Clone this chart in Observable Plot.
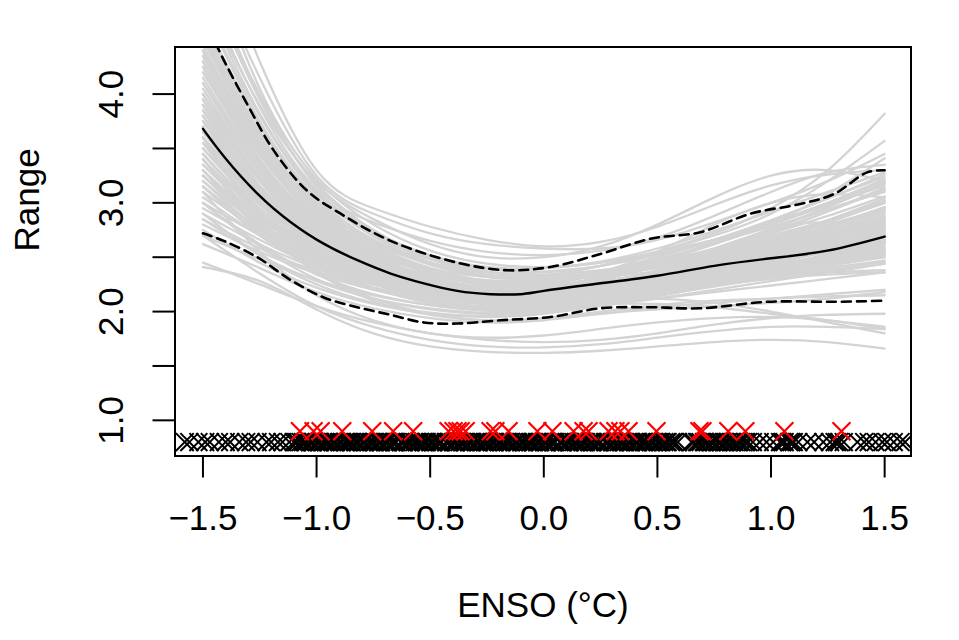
<!DOCTYPE html>
<html>
<head>
<meta charset="utf-8">
<script src="https://cdn.jsdelivr.net/npm/d3@7"></script>
<script src="https://cdn.jsdelivr.net/npm/@observablehq/plot@0.6"></script>
<style>
  html, body { margin: 0; padding: 0; background: #fff; }
</style>
</head>
<body>
<div id="chart"></div>
<script>
// ---------- data ----------
const gridX = [-1.5, -1.25, -1.0, -0.75, -0.5, -0.25, 0, 0.25, 0.5, 0.75, 1.0, 1.25, 1.5];

// bootstrap curves (grey), values at gridX
const bootCurves = [
  [5.6, 4.30, 3.30, 2.95, 2.78, 2.66, 2.60, 2.64, 2.78, 2.98, 3.16, 3.26, 3.30],
  [5.3, 4.15, 3.25, 2.90, 2.72, 2.62, 2.58, 2.58, 2.66, 2.82, 3.00, 3.20, 3.45],
  [5.0, 4.00, 3.15, 2.82, 2.65, 2.55, 2.52, 2.56, 2.68, 2.88, 3.10, 3.28, 3.35],
  [4.9, 3.90, 3.20, 2.85, 2.62, 2.50, 2.50, 2.60, 2.80, 3.05, 3.25, 3.30, 3.20],
  [4.4, 3.55, 2.95, 2.62, 2.45, 2.36, 2.36, 2.42, 2.55, 2.72, 2.95, 3.30, 3.82],
  [4.2, 3.45, 2.90, 2.58, 2.40, 2.32, 2.33, 2.42, 2.55, 2.70, 2.90, 3.20, 3.57],
  [4.6, 3.60, 2.98, 2.65, 2.48, 2.40, 2.40, 2.45, 2.55, 2.66, 2.82, 3.08, 3.41],
  [4.3, 3.45, 2.88, 2.55, 2.35, 2.24, 2.22, 2.26, 2.33, 2.42, 2.52, 2.64, 2.80],
  [3.9, 3.20, 2.75, 2.48, 2.30, 2.20, 2.20, 2.27, 2.37, 2.50, 2.62, 2.74, 2.86],
  [3.5, 2.95, 2.60, 2.38, 2.23, 2.15, 2.16, 2.22, 2.28, 2.34, 2.40, 2.48, 2.60],
  [3.2, 2.80, 2.52, 2.34, 2.21, 2.14, 2.15, 2.20, 2.26, 2.33, 2.40, 2.50, 2.66],
  [4.0, 3.25, 2.75, 2.44, 2.26, 2.17, 2.18, 2.26, 2.38, 2.52, 2.66, 2.80, 2.95],
  [3.7, 3.10, 2.70, 2.44, 2.27, 2.18, 2.18, 2.23, 2.28, 2.33, 2.38, 2.45, 2.55],
  [3.0, 2.70, 2.45, 2.28, 2.17, 2.11, 2.13, 2.20, 2.30, 2.42, 2.55, 2.68, 2.82],
  [4.5, 3.55, 2.90, 2.52, 2.30, 2.19, 2.18, 2.22, 2.30, 2.40, 2.50, 2.60, 2.70],
  [3.4, 2.90, 2.56, 2.34, 2.20, 2.13, 2.14, 2.20, 2.30, 2.44, 2.60, 2.76, 2.92],
  [3.8, 3.15, 2.70, 2.42, 2.25, 2.16, 2.16, 2.22, 2.31, 2.40, 2.48, 2.54, 2.58],
  [2.9, 2.62, 2.40, 2.25, 2.15, 2.10, 2.12, 2.18, 2.25, 2.32, 2.38, 2.44, 2.50],
  [4.1, 3.30, 2.78, 2.47, 2.29, 2.21, 2.22, 2.30, 2.42, 2.56, 2.70, 2.84, 3.00],
  [3.3, 2.82, 2.50, 2.30, 2.17, 2.11, 2.13, 2.20, 2.27, 2.34, 2.42, 2.52, 2.64],
  [3.6, 3.00, 2.62, 2.38, 2.22, 2.14, 2.15, 2.22, 2.32, 2.45, 2.58, 2.72, 2.88],
  [4.4, 3.50, 2.92, 2.58, 2.38, 2.27, 2.25, 2.28, 2.35, 2.44, 2.54, 2.66, 2.78],
  [3.1, 2.74, 2.48, 2.30, 2.18, 2.12, 2.14, 2.22, 2.34, 2.48, 2.62, 2.78, 2.96],
  [2.8, 2.55, 2.35, 2.20, 2.10, 2.05, 2.08, 2.16, 2.26, 2.38, 2.50, 2.62, 2.75],
  [3.95, 3.20, 2.72, 2.44, 2.28, 2.20, 2.20, 2.25, 2.30, 2.36, 2.43, 2.52, 2.64],
  [4.7, 3.70, 3.02, 2.62, 2.40, 2.28, 2.25, 2.28, 2.36, 2.48, 2.62, 2.78, 2.96],
  [3.45, 2.92, 2.57, 2.35, 2.22, 2.15, 2.15, 2.19, 2.24, 2.30, 2.36, 2.44, 2.55],
  [4.25, 3.40, 2.84, 2.50, 2.31, 2.21, 2.20, 2.24, 2.30, 2.38, 2.47, 2.58, 2.72],
  [3.85, 3.12, 2.66, 2.39, 2.23, 2.15, 2.16, 2.23, 2.33, 2.45, 2.56, 2.66, 2.76],
  [3.55, 3.00, 2.64, 2.42, 2.28, 2.20, 2.19, 2.22, 2.27, 2.34, 2.44, 2.56, 2.70],
  [4.15, 3.35, 2.80, 2.46, 2.26, 2.16, 2.15, 2.19, 2.26, 2.34, 2.42, 2.50, 2.58],
  [3.25, 2.80, 2.50, 2.31, 2.19, 2.13, 2.13, 2.17, 2.22, 2.28, 2.36, 2.46, 2.58],
  [4.35, 3.48, 2.88, 2.52, 2.32, 2.22, 2.21, 2.26, 2.36, 2.50, 2.66, 2.84, 3.04],
  [3.75, 3.08, 2.64, 2.38, 2.24, 2.17, 2.17, 2.21, 2.26, 2.31, 2.37, 2.44, 2.52],
  [2.95, 2.66, 2.42, 2.26, 2.15, 2.09, 2.10, 2.15, 2.22, 2.30, 2.38, 2.47, 2.58],
  [4.6, 3.62, 2.96, 2.58, 2.36, 2.25, 2.23, 2.26, 2.32, 2.40, 2.48, 2.56, 2.64],
  [3.35, 2.88, 2.56, 2.36, 2.23, 2.16, 2.17, 2.24, 2.36, 2.52, 2.68, 2.84, 3.02],
  [4.0, 3.20, 2.70, 2.42, 2.28, 2.22, 2.25, 2.36, 2.55, 2.80, 3.00, 3.08, 3.05],
  [3.3, 2.85, 2.55, 2.36, 2.25, 2.20, 2.24, 2.35, 2.50, 2.66, 2.78, 2.82, 2.80],
  [3.7, 3.00, 2.55, 2.30, 2.16, 2.10, 2.10, 2.12, 2.12, 2.08, 2.00, 1.90, 1.80],
  [3.2, 2.75, 2.45, 2.25, 2.13, 2.07, 2.06, 2.07, 2.07, 2.04, 1.98, 1.92, 1.86],
  [3.0, 2.60, 2.30, 2.12, 2.02, 1.98, 2.00, 2.06, 2.12, 2.18, 2.24, 2.30, 2.36],
  [2.75, 2.45, 2.22, 2.07, 1.98, 1.95, 1.98, 2.05, 2.12, 2.20, 2.28, 2.36, 2.44],
  [3.4, 2.78, 2.36, 2.10, 1.97, 1.92, 1.94, 2.00, 2.06, 2.10, 2.12, 2.14, 2.15],
  [2.62, 2.40, 2.18, 2.03, 1.94, 1.90, 1.92, 1.98, 2.04, 2.08, 2.12, 2.16, 2.20],
  [3.6, 2.85, 2.38, 2.12, 1.98, 1.92, 1.93, 1.98, 2.02, 2.05, 2.08, 2.12, 2.18],
  [2.9, 2.52, 2.25, 2.08, 1.99, 1.96, 1.99, 2.07, 2.16, 2.24, 2.30, 2.34, 2.36],
  [2.41, 2.28, 2.02, 1.80, 1.68, 1.63, 1.62, 1.64, 1.68, 1.72, 1.74, 1.72, 1.66],
  [2.70, 2.35, 2.05, 1.86, 1.74, 1.68, 1.67, 1.70, 1.76, 1.82, 1.86, 1.86, 1.84],
  [2.45, 2.25, 2.05, 1.90, 1.80, 1.74, 1.72, 1.74, 1.80, 1.88, 1.94, 1.97, 1.98],
  [3.1, 2.55, 2.15, 1.92, 1.80, 1.76, 1.78, 1.84, 1.90, 1.94, 1.95, 1.92, 1.84],
  [4.45, 3.52, 2.90, 2.55, 2.35, 2.25, 2.24, 2.28, 2.36, 2.46, 2.58, 2.70, 2.84],
  [3.65, 3.05, 2.66, 2.42, 2.27, 2.19, 2.19, 2.24, 2.32, 2.42, 2.52, 2.62, 2.72],
  [4.05, 3.28, 2.76, 2.45, 2.27, 2.18, 2.18, 2.24, 2.34, 2.47, 2.60, 2.74, 2.90],
  [3.15, 2.76, 2.49, 2.31, 2.19, 2.13, 2.14, 2.20, 2.28, 2.37, 2.46, 2.56, 2.68],
  [4.8, 3.75, 3.05, 2.66, 2.44, 2.32, 2.30, 2.33, 2.40, 2.50, 2.60, 2.72, 2.86],
  [3.9, 3.16, 2.68, 2.40, 2.24, 2.16, 2.16, 2.21, 2.28, 2.36, 2.45, 2.55, 2.66],
  [3.5, 2.98, 2.62, 2.40, 2.26, 2.18, 2.18, 2.23, 2.31, 2.41, 2.52, 2.64, 2.78],
  [2.85, 2.58, 2.37, 2.22, 2.12, 2.07, 2.09, 2.15, 2.23, 2.32, 2.40, 2.48, 2.56],
  [4.2, 3.38, 2.82, 2.48, 2.28, 2.18, 2.17, 2.21, 2.28, 2.37, 2.47, 2.58, 2.70],
  [3.35, 2.86, 2.53, 2.32, 2.19, 2.12, 2.12, 2.16, 2.22, 2.29, 2.38, 2.49, 2.62],
  [5.1, 3.95, 3.18, 2.75, 2.50, 2.37, 2.33, 2.35, 2.42, 2.52, 2.64, 2.78, 2.94],
  [3.75, 3.10, 2.68, 2.42, 2.26, 2.18, 2.18, 2.24, 2.34, 2.46, 2.58, 2.70, 2.82],
  [4.55, 3.58, 2.94, 2.57, 2.35, 2.24, 2.22, 2.25, 2.31, 2.38, 2.46, 2.55, 2.65],
  [3.05, 2.70, 2.44, 2.27, 2.16, 2.10, 2.11, 2.17, 2.26, 2.36, 2.47, 2.60, 2.74],
  [4.1, 3.32, 2.80, 2.48, 2.30, 2.21, 2.21, 2.27, 2.37, 2.50, 2.64, 2.78, 2.92],
  [3.6, 3.02, 2.63, 2.39, 2.24, 2.16, 2.16, 2.21, 2.29, 2.38, 2.48, 2.58, 2.70],
  [3.25, 2.78, 2.47, 2.27, 2.14, 2.08, 2.09, 2.14, 2.21, 2.28, 2.35, 2.42, 2.50],
  [4.35, 3.45, 2.86, 2.51, 2.31, 2.21, 2.20, 2.25, 2.33, 2.44, 2.56, 2.68, 2.80],
  [3.95, 3.22, 2.74, 2.45, 2.28, 2.19, 2.19, 2.24, 2.31, 2.39, 2.47, 2.56, 2.66],
  [3.45, 2.90, 2.54, 2.32, 2.18, 2.11, 2.11, 2.16, 2.23, 2.31, 2.40, 2.50, 2.62],
  [4.65, 3.65, 2.98, 2.60, 2.38, 2.27, 2.25, 2.28, 2.35, 2.45, 2.56, 2.68, 2.82],
  [3.0, 2.62, 2.34, 2.16, 2.06, 2.01, 2.03, 2.09, 2.17, 2.25, 2.33, 2.40, 2.46],
  [3.8, 3.05, 2.58, 2.31, 2.16, 2.09, 2.09, 2.13, 2.19, 2.26, 2.33, 2.40, 2.47],
  [4.25, 3.36, 2.78, 2.44, 2.25, 2.15, 2.14, 2.18, 2.25, 2.34, 2.44, 2.56, 2.70],
  [3.55, 2.92, 2.52, 2.28, 2.14, 2.07, 2.07, 2.12, 2.20, 2.30, 2.41, 2.53, 2.66],
  [2.7, 2.48, 2.29, 2.15, 2.06, 2.02, 2.04, 2.10, 2.18, 2.27, 2.36, 2.45, 2.54],
  [4.9, 3.82, 3.10, 2.69, 2.45, 2.33, 2.30, 2.32, 2.37, 2.45, 2.54, 2.64, 2.76],
  [3.7, 3.04, 2.62, 2.37, 2.22, 2.14, 2.14, 2.19, 2.27, 2.37, 2.49, 2.62, 2.76],
  [4.0, 3.22, 2.72, 2.43, 2.26, 2.18, 2.19, 2.26, 2.38, 2.54, 2.72, 2.92, 3.14],
  [3.4, 2.84, 2.48, 2.27, 2.15, 2.09, 2.10, 2.16, 2.26, 2.39, 2.54, 2.70, 2.88],
  [3.85, 3.14, 2.70, 2.44, 2.29, 2.22, 2.23, 2.30, 2.42, 2.58, 2.76, 2.96, 3.18],
  [3.15, 2.72, 2.42, 2.22, 2.10, 2.04, 2.05, 2.10, 2.18, 2.26, 2.32, 2.36, 2.38],
  [4.3, 3.40, 2.82, 2.48, 2.29, 2.20, 2.20, 2.26, 2.35, 2.47, 2.60, 2.76, 2.94],
  [5.4, 4.05, 3.22, 2.80, 2.56, 2.44, 2.41, 2.45, 2.53, 2.64, 2.78, 2.94, 3.12],
  [5.0, 3.88, 3.12, 2.72, 2.50, 2.39, 2.37, 2.42, 2.52, 2.66, 2.82, 3.00, 3.20],
  [4.8, 3.80, 3.08, 2.70, 2.48, 2.36, 2.34, 2.38, 2.46, 2.58, 2.72, 2.88, 3.06],
  [5.2, 3.98, 3.16, 2.74, 2.52, 2.41, 2.40, 2.46, 2.58, 2.74, 2.92, 3.10, 3.28],
  [4.7, 3.72, 3.04, 2.66, 2.45, 2.34, 2.32, 2.36, 2.44, 2.55, 2.68, 2.84, 3.02],
  [4.5, 3.62, 3.00, 2.64, 2.43, 2.32, 2.30, 2.34, 2.42, 2.54, 2.68, 2.84, 3.00],
  [4.1, 3.36, 2.86, 2.55, 2.37, 2.28, 2.28, 2.34, 2.44, 2.58, 2.74, 2.92, 3.12],
  [3.9, 3.24, 2.80, 2.52, 2.36, 2.28, 2.29, 2.36, 2.48, 2.63, 2.80, 2.98, 3.18],
  [4.3, 3.44, 2.88, 2.55, 2.36, 2.27, 2.27, 2.34, 2.46, 2.62, 2.80, 3.00, 3.22],
  [3.6, 3.06, 2.70, 2.47, 2.33, 2.26, 2.27, 2.34, 2.46, 2.62, 2.80, 2.98, 3.16],
  [3.7, 3.10, 2.72, 2.48, 2.34, 2.27, 2.28, 2.33, 2.42, 2.53, 2.66, 2.82, 3.00],
  [4.0, 3.30, 2.83, 2.54, 2.37, 2.29, 2.30, 2.37, 2.50, 2.66, 2.84, 3.04, 3.26],
  [3.8, 3.12, 2.68, 2.42, 2.27, 2.21, 2.23, 2.32, 2.46, 2.64, 2.84, 3.04, 3.24],
  [3.45, 2.92, 2.58, 2.37, 2.25, 2.19, 2.21, 2.29, 2.42, 2.58, 2.76, 2.94, 3.10],
  [3.3, 2.76, 2.42, 2.21, 2.08, 2.02, 2.03, 2.08, 2.15, 2.23, 2.31, 2.38, 2.44],
  [3.6, 2.90, 2.47, 2.22, 2.08, 2.01, 2.01, 2.06, 2.14, 2.24, 2.34, 2.44, 2.52],
  [2.85, 2.52, 2.28, 2.12, 2.03, 1.99, 2.01, 2.07, 2.15, 2.24, 2.34, 2.44, 2.54],
  [3.9, 3.08, 2.56, 2.26, 2.10, 2.03, 2.03, 2.08, 2.16, 2.26, 2.36, 2.46, 2.56],
  [3.15, 2.70, 2.40, 2.21, 2.09, 2.04, 2.06, 2.13, 2.23, 2.35, 2.48, 2.60, 2.72],
  [3.65, 3.04, 2.64, 2.40, 2.25, 2.18, 2.19, 2.26, 2.36, 2.48, 2.60, 2.72, 2.84],
  [4.4, 3.48, 2.88, 2.52, 2.32, 2.22, 2.21, 2.25, 2.32, 2.41, 2.50, 2.60, 2.72],
  [3.25, 2.82, 2.52, 2.33, 2.21, 2.15, 2.16, 2.22, 2.31, 2.42, 2.54, 2.66, 2.78]
];

// mean fit (solid black)
const meanX = [-1.5, -1.405, -1.258, -1.112, -0.965, -0.818, -0.674, -0.528, -0.381, -0.235, -0.103, 0, 0.249, 0.5, 0.75, 1.0, 1.247, 1.5];
const meanY = [3.68, 3.42, 3.08, 2.82, 2.62, 2.47, 2.35, 2.26, 2.19, 2.16, 2.16, 2.19, 2.26, 2.33, 2.42, 2.49, 2.56, 2.69];

// upper 97.5% band (dashed)
const upperX = [-1.5, -1.415, -1.298, -1.188, -1.041, -0.894, -0.674, -0.381, -0.161, 0.029, 0.249, 0.469, 0.689, 0.909, 1.129, 1.276, 1.423, 1.5];
const upperY = [4.72, 4.34, 3.88, 3.48, 3.11, 2.90, 2.65, 2.45, 2.38, 2.41, 2.53, 2.67, 2.73, 2.90, 2.99, 3.08, 3.28, 3.30];

// lower 2.5% band (dashed)
const lowerX = [-1.5, -1.408, -1.261, -1.114, -0.968, -0.821, -0.674, -0.528, -0.381, -0.190, 0.029, 0.249, 0.469, 0.689, 0.983, 1.276, 1.5];
const lowerY = [2.72, 2.65, 2.50, 2.29, 2.13, 2.04, 1.97, 1.90, 1.89, 1.92, 1.95, 2.03, 2.04, 2.03, 2.09, 2.09, 2.10];

// rug: all ENSO values (black crosses) and selected events (red crosses)
const rugBlack = [
  -1.58, -1.56, -1.52, -1.49, -1.47, -1.43, -1.40, -1.38, -1.34, -1.31, -1.29, -1.26, -1.22, -1.20, -1.17, -1.15, -1.12,
  -1.10, -1.09, -1.07, -1.06, -1.05, -1.03, -1.02, -1.00, -0.99, -0.97, -0.96, -0.95, -0.93, -0.92, -0.90, -0.89,
  -0.87, -0.86, -0.85, -0.83, -0.82, -0.80, -0.79, -0.77, -0.76, -0.75, -0.73, -0.72, -0.70, -0.69, -0.67, -0.66,
  -0.65, -0.63, -0.62, -0.60, -0.59, -0.57, -0.56, -0.55, -0.53, -0.52, -0.50, -0.49, -0.47, -0.46, -0.45, -0.43,
  -0.42, -0.40, -0.39, -0.37, -0.36, -0.35, -0.33, -0.32, -0.30, -0.29, -0.27, -0.26, -0.25, -0.23, -0.22, -0.20,
  -0.19, -0.17, -0.16, -0.15, -0.13, -0.12, -0.10, -0.09, -0.07, -0.06, -0.05, -0.03, -0.02, 0.00, 0.01, 0.03,
  0.04, 0.05, 0.07, 0.08, 0.10, 0.11, 0.13, 0.14, 0.15, 0.17, 0.18, 0.20, 0.21, 0.23, 0.24, 0.25, 0.27, 0.28,
  0.30, 0.31, 0.33, 0.34, 0.35, 0.37, 0.38, 0.40, 0.41, 0.43, 0.44, 0.45, 0.47, 0.48, 0.50, 0.51, 0.53, 0.54,
  0.56, 0.57, 0.59, 0.65, 0.66, 0.68, 0.69, 0.71, 0.72, 0.74, 0.75, 0.77, 0.78, 0.80, 0.81, 0.83, 0.84, 0.86,
  0.87, 0.89, 0.90, 0.92, 0.95, 0.98, 1.01, 1.04, 1.06, 1.08, 1.10, 1.12, 1.16, 1.19, 1.23, 1.26, 1.28, 1.30,
  1.32, 1.38, 1.41, 1.43, 1.46, 1.49, 1.51, 1.54, 1.57, 1.59,
  -1.085, -1.045, -1.015, -0.985, -0.945, -0.915, -0.875, -0.845, -0.815, -0.785, -0.745, -0.715, -0.685, -0.655,
  -0.615, -0.585, -0.545, -0.515, -0.485, -0.455, -0.415, -0.385, -0.345, -0.315, -0.285, -0.245, -0.215, -0.185,
  -0.145, -0.115, -0.085, -0.045, -0.015, 0.015, 0.045, 0.085, 0.115, 0.155, 0.185, 0.215, 0.245, 0.285, 0.315,
  0.355, 0.385, 0.415, 0.455, 0.485, 0.515, 0.545, 0.575, 0.675, 0.705, 0.735, 0.765, 0.795, 0.825, 0.855, 0.885,
  1.05, 1.09, 1.29
];
const rugRed = [
  -1.073, -1.013, -0.982, -0.887, -0.755, -0.663, -0.575, -0.419, -0.397, -0.380, -0.366, -0.344,
  -0.234, -0.213, -0.155, -0.028, 0.038, 0.131, 0.175, 0.197, 0.285, 0.315, 0.337, 0.373, 0.496,
  0.685, 0.698, 0.812, 0.887, 1.059, 1.310
];
const rugBlackLevel = 0.8;
const rugRedLevel = 0.9;

const xTicks = [-1.5, -1.0, -0.5, 0.0, 0.5, 1.0, 1.5];
const yTicks = [1.0, 1.5, 2.0, 2.5, 3.0, 3.5, 4.0];
const yLabels = [1.0, 2.0, 3.0, 4.0];
const xTitle = "ENSO (°C)";
const yTitle = "Range";

// ---------- build tables ----------
const bootRows = bootCurves.flatMap((ys, id) => ys.map((y, i) => ({id, x: gridX[i], y})));
const meanRows = meanX.map((x, i) => ({x, y: meanY[i]}));
const upperRows = upperX.map((x, i) => ({x, y: upperY[i]}));
const lowerRows = lowerX.map((x, i) => ({x, y: lowerY[i]}));
const fmt = d3.format(".1f");

const FS = 35;
const chart = Plot.plot({
  width: 959,
  height: 640,
  marginLeft: 174.5,
  marginRight: 48.5,
  marginTop: 46.5,
  marginBottom: 184.5,
  style: {fontFamily: "'Liberation Sans', Arial, Helvetica, sans-serif", background: "#fff", color: "#000"},
  x: {domain: [-1.623, 1.616]},
  y: {domain: [0.672, 4.433]},
  marks: [
    Plot.line(bootRows, {x: "x", y: "y", z: "id", stroke: "#d3d3d3", strokeWidth: 2.3, curve: "natural", clip: true}),
    Plot.line(upperRows, {x: "x", y: "y", stroke: "#000", strokeWidth: 2.6, strokeDasharray: "9,6", curve: "catmull-rom", clip: true}),
    Plot.line(lowerRows, {x: "x", y: "y", stroke: "#000", strokeWidth: 2.6, strokeDasharray: "9,6", curve: "catmull-rom", clip: true}),
    Plot.line(meanRows, {x: "x", y: "y", stroke: "#000", strokeWidth: 2.4, curve: "natural", clip: true}),
    Plot.dot(rugBlack, {x: d => d, y: () => rugBlackLevel, symbol: "times", r: 8.2, stroke: "#000", strokeWidth: 2, clip: true}),
    Plot.dot(rugRed, {x: d => d, y: () => rugRedLevel, symbol: "times", r: 8.2, stroke: "#ff0000", strokeWidth: 2.2, clip: true}),
    Plot.frame({stroke: "#000", strokeWidth: 2}),
    Plot.axisX(xTicks, {tickSize: 22, tickPadding: 27, fontSize: FS, tickFormat: fmt, strokeWidth: 2, label: null}),
    Plot.axisY(yTicks, {tickSize: 22, tickFormat: () => "", strokeWidth: 2, label: null}),
    Plot.text(yLabels, {y: d => d, text: d => fmt(d), frameAnchor: "left", dx: -63, rotate: -90, fontSize: FS, textAnchor: "middle", lineAnchor: "middle"}),
    Plot.text([xTitle], {text: d => d, frameAnchor: "bottom", dy: 150, fontSize: FS, lineAnchor: "middle"}),
    Plot.text([yTitle], {text: d => d, frameAnchor: "left", dx: -147, rotate: -90, fontSize: FS, lineAnchor: "middle"})
  ]
});
document.getElementById("chart").appendChild(chart);
</script>
</body>
</html>
